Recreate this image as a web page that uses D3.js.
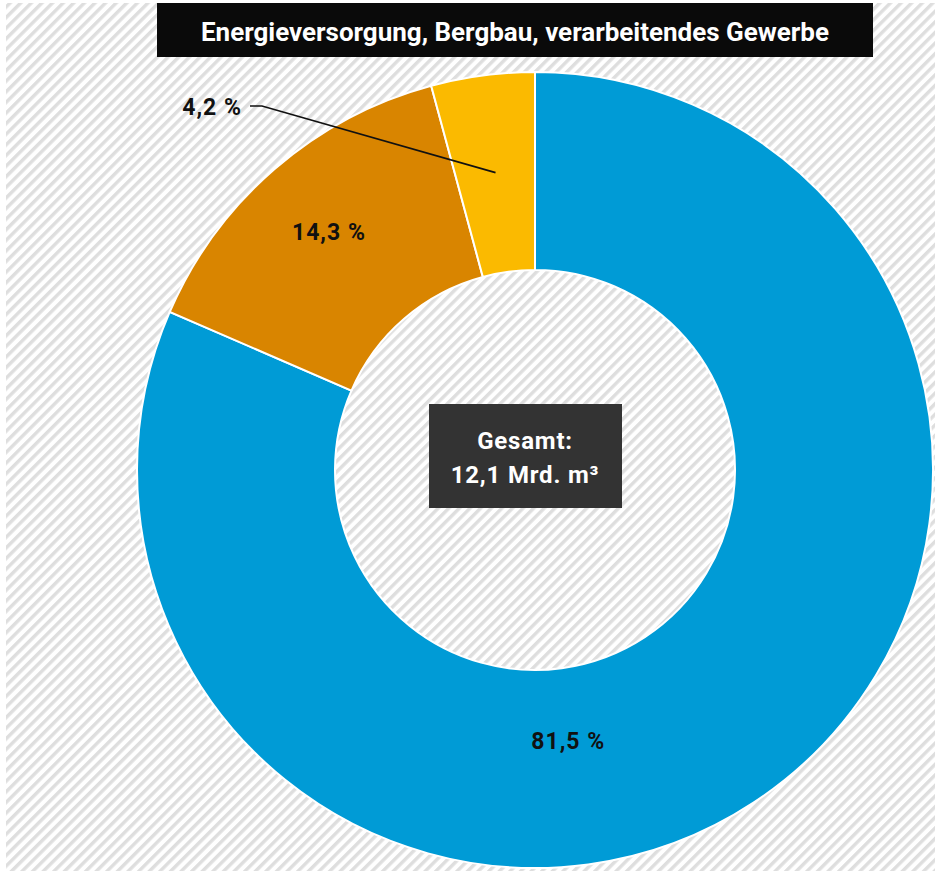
<!DOCTYPE html>
<html>
<head>
<meta charset="utf-8">
<script src="https://cdn.jsdelivr.net/npm/d3@7/dist/d3.min.js"></script>
<style>
  html, body { margin: 0; padding: 0; background: #fff; }
  svg { display: block; }
</style>
</head>
<body>
<script>
// data
const categories = ['Energieversorgung', 'Bergbau', 'verarbeitendes Gewerbe'];
const shares = [81.5, 14.3, 4.2];
const shareLabels = ['81,5 %', '14,3 %', '4,2 %'];
const colors = ['#009bd6', '#d98500', '#fbba00'];
const title = 'Energieversorgung, Bergbau, verarbeitendes Gewerbe';
const totalLines = ['Gesamt:', '12,1 Mrd. m³'];

const width = 935, height = 874;
const cx = 535, cy = 470;
const outerR = 398, innerR = 200;
const font = '"Roboto", "Liberation Sans", sans-serif';

const svg = d3.select('body').append('svg')
    .attr('width', width)
    .attr('height', height);

// hatched background
const defs = svg.append('defs');
const pat = defs.append('pattern')
    .attr('id', 'hatch')
    .attr('patternUnits', 'userSpaceOnUse')
    .attr('width', 7.5)
    .attr('height', 7.5)
    .attr('patternTransform', 'rotate(45)');
pat.append('rect').attr('width', 7.5).attr('height', 7.5).attr('fill', '#fff');
pat.append('rect').attr('width', 3.4).attr('height', 7.5).attr('fill', '#dedede');

svg.append('rect')
    .attr('x', 6).attr('y', 3)
    .attr('width', width - 6).attr('height', 868)
    .attr('fill', 'url(#hatch)');

// title
svg.append('rect')
    .attr('x', 157).attr('y', 3)
    .attr('width', 716).attr('height', 54)
    .attr('fill', '#0a0a0a');
svg.append('text')
    .attr('x', 515).attr('y', 41)
    .attr('text-anchor', 'middle')
    .attr('font-family', font)
    .attr('font-weight', 'bold')
    .attr('font-size', 25)
    .attr('fill', '#fff')
    .attr('textLength', 628)
    .attr('lengthAdjust', 'spacingAndGlyphs')
    .text(title);

// donut
const data = categories.map((c, i) => ({ cat: c, value: shares[i], label: shareLabels[i], color: colors[i] }));
const pie = d3.pie().sort(null).value(d => d.value);
const arc = d3.arc().innerRadius(innerR).outerRadius(outerR);
const arcs = pie(data);

const g = svg.append('g').attr('transform', `translate(${cx},${cy})`);
g.selectAll('path.slice')
    .data(arcs)
    .join('path')
    .attr('class', 'slice')
    .attr('d', arc)
    .attr('fill', d => d.data.color)
    .attr('stroke', '#fff')
    .attr('stroke-width', 2);

// labels
const labelArc = r => d3.arc().innerRadius(r).outerRadius(r);
const lblStyle = sel => sel
    .attr('text-anchor', 'middle')
    .attr('font-family', font)
    .attr('font-weight', 'bold')
    .attr('font-size', 23)
    .attr('letter-spacing', 1)
    .attr('fill', '#111');

// big slice: label placed lower, near the bottom
const blue = arcs[0];
const blueAngle = 173 * Math.PI / 180, blueR = 273;
g.append('text').call(lblStyle)
    .attr('x', blueR * Math.sin(blueAngle))
    .attr('y', -blueR * Math.cos(blueAngle) + 8)
    .text(blue.data.label);

const orange = arcs[1];
const oc = labelArc(315).centroid(orange);
g.append('text').call(lblStyle)
    .attr('x', oc[0]).attr('y', oc[1] + 8)
    .text(orange.data.label);

// small slice: outside label with leader line
const yellow = arcs[2];
const yc = labelArc(300).centroid(yellow);
const lx = 250 - cx, ly = 106 - cy;
g.append('polyline')
    .attr('points', [[lx, ly], [lx + 12, ly], yc].map(p => p.join(',')).join(' '))
    .attr('fill', 'none')
    .attr('stroke', '#111')
    .attr('stroke-width', 1.6);
g.append('text').call(lblStyle)
    .attr('text-anchor', 'end')
    .attr('x', lx - 8).attr('y', ly + 9)
    .text(yellow.data.label);

// total box
const box = g.append('g');
box.append('rect')
    .attr('x', -106).attr('y', -66)
    .attr('width', 193).attr('height', 104)
    .attr('fill', '#333');
box.selectAll('text')
    .data(totalLines)
    .join('text')
    .attr('x', -10)
    .attr('y', (d, i) => -21 + i * 34)
    .attr('text-anchor', 'middle')
    .attr('font-family', font)
    .attr('font-weight', 'bold')
    .attr('font-size', 24)
    .attr('letter-spacing', 0.8)
    .attr('fill', '#fff')
    .text(d => d);
</script>
</body>
</html>
